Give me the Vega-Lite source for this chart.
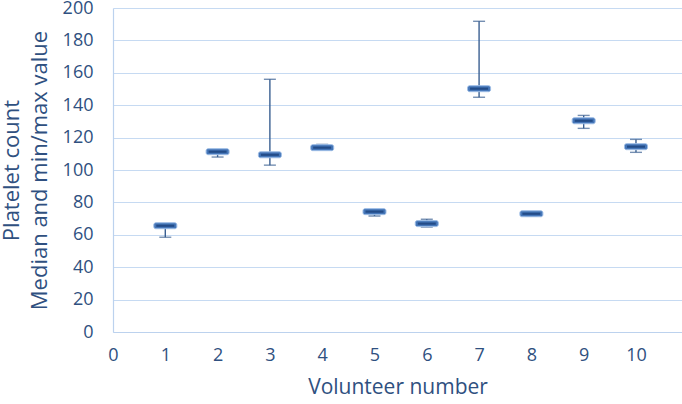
{
  "$schema": "https://vega.github.io/schema/vega-lite/v6.json",
  "width": 569,
  "height": 324,
  "autosize": "none",
  "padding": {"left": 113, "top": 8, "right": 0, "bottom": 72},
  "background": "white",
  "config": {
    "view": {"stroke": null},
    "font": "Open Sans",
    "axisY": {
      "values": [0, 20, 40, 60, 80, 100, 120, 140, 160, 180, 200],
      "tickCount": 11,
      "grid": true,
      "gridColor": "#c6daf2",
      "gridWidth": 1.2,
      "ticks": false,
      "domain": true,
      "domainColor": "#bcd2ee",
      "domainWidth": 1.2,
      "labelFont": "Open Sans",
      "labelFontSize": 18,
      "labelColor": "#2f5080",
      "labelPadding": 20,
      "labelFlush": false,
      "labelOverlap": false,
      "titleFont": "Open Sans",
      "titleFontSize": 22,
      "titleFontWeight": "normal",
      "titleColor": "#2f5080",
      "titleLineHeight": 28,
      "titlePadding": 11
    }
  },
  "data": {
    "values": [
      {"vol": 1, "median": 65.6, "min": 58.5, "max": 66.5},
      {"vol": 2, "median": 111.3, "min": 108, "max": 112},
      {"vol": 3, "median": 109.4, "min": 103, "max": 156},
      {"vol": 4, "median": 113.8, "min": 113, "max": 115.8},
      {"vol": 5, "median": 74.3, "min": 71.6, "max": 75},
      {"vol": 6, "median": 66.9, "min": 64.8, "max": 69.6},
      {"vol": 7, "median": 150.2, "min": 144.9, "max": 191.8},
      {"vol": 8, "median": 73, "min": 71.5, "max": 73.8},
      {"vol": 9, "median": 130.4, "min": 125.7, "max": 133.7},
      {"vol": 10, "median": 114.4, "min": 110.9, "max": 118.9}
    ]
  },
  "encoding": {
    "x": {
      "field": "vol",
      "type": "quantitative",
      "scale": {"domain": [0, 10.88], "nice": false, "zero": false},
      "axis": {
        "title": "Volunteer number",
        "values": [0, 1, 2, 3, 4, 5, 6, 7, 8, 9, 10],
        "grid": false,
        "ticks": false,
        "domain": true,
        "domainColor": "#bcd2ee",
        "domainWidth": 1.2,
        "labelFont": "Open Sans",
        "labelFontSize": 18,
        "labelColor": "#2f5080",
        "labelPadding": 14,
        "labelFlush": false,
        "labelOverlap": false,
        "titleFont": "Open Sans",
        "titleFontSize": 21,
        "titleFontWeight": "normal",
        "titleColor": "#2f5080",
        "titlePadding": 12
      }
    }
  },
  "layer": [
    {
      "mark": {"type": "rule", "color": "#3a5f91", "strokeWidth": 1.4},
      "encoding": {
        "y": {
          "field": "min",
          "type": "quantitative",
          "scale": {"domain": [0, 200], "nice": false},
          "axis": {"title": ["Platelet count", "Median and min/max value"]}
        },
        "y2": {"field": "max"}
      }
    },
    {
      "mark": {"type": "tick", "orient": "horizontal", "color": "#3a5f91", "size": 12, "thickness": 1.4},
      "encoding": {"y": {"field": "min", "type": "quantitative", "axis": {"title": ["Platelet count", "Median and min/max value"]}}}
    },
    {
      "mark": {"type": "tick", "orient": "horizontal", "color": "#3a5f91", "size": 12, "thickness": 1.4},
      "encoding": {"y": {"field": "max", "type": "quantitative", "axis": {"title": ["Platelet count", "Median and min/max value"]}}}
    },
    {
      "mark": {"type": "tick", "orient": "horizontal", "color": "#4576b8", "size": 23, "thickness": 6, "cornerRadius": 2, "stroke": "#9dbde6", "strokeWidth": 1, "opacity": 1},
      "encoding": {"y": {"field": "median", "type": "quantitative", "axis": {"title": ["Platelet count", "Median and min/max value"]}}}
    },
    {
      "mark": {"type": "tick", "orient": "horizontal", "color": "#234c88", "size": 18, "thickness": 2.2, "opacity": 1},
      "encoding": {"y": {"field": "median", "type": "quantitative", "axis": {"title": ["Platelet count", "Median and min/max value"]}}}
    }
  ]
}
